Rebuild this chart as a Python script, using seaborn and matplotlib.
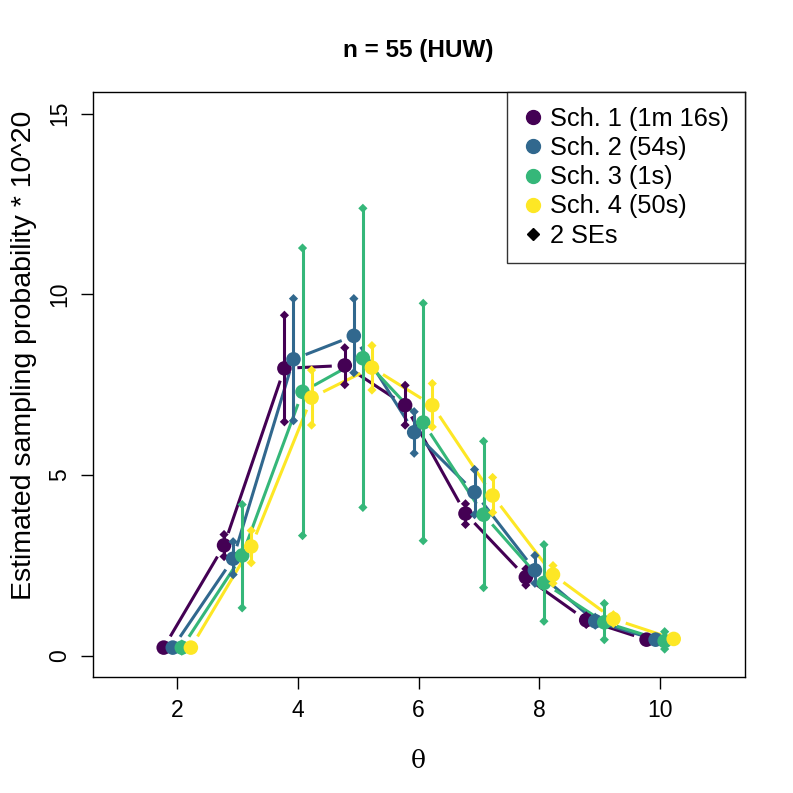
import numpy as np
import pandas as pd
import matplotlib
matplotlib.use("Agg")
import matplotlib.pyplot as plt
import seaborn as sns

# theta values and scheme estimates
theta = [2, 3, 4, 5, 6, 7, 8, 9, 10]
schemes = ["Sch. 1 (1m 16s)", "Sch. 2 (54s)", "Sch. 3 (1s)", "Sch. 4 (50s)"]
offsets = [-0.225, -0.075, 0.075, 0.225]
colors = ["#440154", "#31688E", "#35B779", "#FDE725"]

est_1 = [0.22, 3.05, 7.95, 8.03, 6.93, 3.93, 2.17, 0.98, 0.44]
lo_1 = [0.17, 2.74, 6.47, 7.50, 6.38, 3.63, 1.95, 0.86, 0.38]
hi_1 = [0.27, 3.35, 9.42, 8.52, 7.48, 4.20, 2.40, 1.10, 0.50]

est_2 = [0.22, 2.68, 8.20, 8.85, 6.18, 4.52, 2.36, 0.95, 0.44]
lo_2 = [0.16, 2.24, 6.50, 7.83, 5.60, 3.90, 2.00, 0.84, 0.37]
hi_2 = [0.28, 3.15, 9.88, 9.88, 6.75, 5.15, 2.77, 1.06, 0.51]

est_3 = [0.22, 2.77, 7.30, 8.23, 6.45, 3.90, 2.01, 0.92, 0.40]
lo_3 = [0.12, 1.32, 3.32, 4.10, 3.18, 1.88, 0.95, 0.44, 0.18]
hi_3 = [0.32, 4.18, 11.28, 12.38, 9.75, 5.93, 3.07, 1.44, 0.66]

est_4 = [0.22, 3.02, 7.14, 7.97, 6.93, 4.43, 2.24, 1.01, 0.46]
lo_4 = [0.18, 2.57, 6.38, 7.35, 6.33, 3.96, 2.00, 0.89, 0.40]
hi_4 = [0.26, 3.46, 7.90, 8.58, 7.53, 4.93, 2.49, 1.13, 0.52]

ests = [est_1, est_2, est_3, est_4]
los = [lo_1, lo_2, lo_3, lo_4]
his = [hi_1, hi_2, hi_3, hi_4]

sns.set_style("white")
plt.rcParams['font.family'] = ['Liberation Sans', 'DejaVu Sans']
plt.rcParams['text.color'] = 'black'
plt.rcParams['xtick.color'] = 'black'
plt.rcParams['ytick.color'] = 'black'
plt.rcParams['axes.labelcolor'] = 'black'

fig = plt.figure(figsize=(7.93, 7.93), dpi=100)
ax = fig.add_axes([0.117, 0.146, 0.822, 0.738])
ax.set_xlim(0.6, 11.4)
ax.set_ylim(-0.6, 15.6)

gap = 13.0  # pixels left blank around each point (type = "b")
fig.canvas.draw()
for k in range(4):
    x = np.array(theta) + offsets[k]
    y = np.array(ests[k])
    # lines with gaps next to points
    pts = ax.transData.transform(np.column_stack([x, y]))
    inv = ax.transData.inverted()
    for i in range(len(x) - 1):
        p0, p1 = pts[i], pts[i + 1]
        d = p1 - p0
        L = np.hypot(*d)
        if L <= 2 * gap:
            continue
        u = d / L
        a = inv.transform(p0 + u * gap)
        b = inv.transform(p1 - u * gap)
        ax.plot([a[0], b[0]], [a[1], b[1]], color=colors[k], lw=2.2,
                solid_capstyle='butt', zorder=2)
    df = pd.DataFrame({"x": x, "y": y})
    sns.scatterplot(data=df, x="x", y="y", color=colors[k], s=110,
                    edgecolor="none", ax=ax, zorder=3)
    # 2 SE bars
    ax.vlines(x, los[k], his[k], color=colors[k], lw=2.2, zorder=3)
    ax.scatter(np.concatenate([x, x]), np.concatenate([los[k], his[k]]),
               marker="D", s=22, color=colors[k], edgecolor="none", zorder=3)

ax.set_xticks([2, 4, 6, 8, 10])
ax.set_yticks([0, 5, 10, 15])
ax.tick_params(axis="both", direction="out", length=8.5, width=1,
               labelsize=16.5, bottom=True, left=True, pad=7, colors="black")
for lab in ax.get_yticklabels():
    lab.set_rotation(90)
    lab.set_va("center")
for s in ax.spines.values():
    s.set_linewidth(1)
    s.set_color("black")

ax.set_xlabel("θ", family=["DejaVu Serif"], fontsize=18, labelpad=20)
ax.set_ylabel("Estimated sampling probability * 10^20", fontsize=20.5)
ax.yaxis.set_label_coords(-0.085, 0.55)
ax.set_title("n = 55 (HUW)", fontsize=17.5, fontweight="bold", pad=25)

handles = [plt.Line2D([], [], marker="o", ls="", color=c, markersize=10) for c in colors]
handles.append(plt.Line2D([], [], marker="D", ls="", color="black", markersize=6))
leg = ax.legend(handles, schemes + ["2 SEs"], loc="upper right", fontsize=18.3,
                frameon=True, fancybox=False, edgecolor="black", borderaxespad=0,
                handletextpad=0.3, labelspacing=0.2, borderpad=0.6, handlelength=0.8)
leg.get_frame().set_linewidth(1)

fig.savefig("out.png", dpi=100, facecolor="white")
